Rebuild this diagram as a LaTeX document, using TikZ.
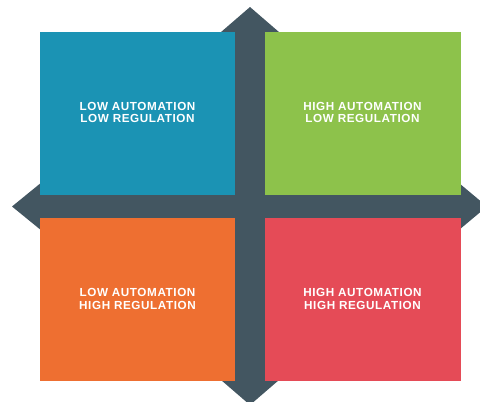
\documentclass[tikz,border=0pt]{standalone}
\usepackage{fontspec}
\newfontfamily\quadfont[LetterSpace=5]{Liberation Sans}
\definecolor{axisgray}{HTML}{435661}
\definecolor{qblue}{HTML}{1B93B4}
\definecolor{qgreen}{HTML}{8DC24B}
\definecolor{qorange}{HTML}{EE6F31}
\definecolor{qred}{HTML}{E54B57}
\tikzset{
  quadtext/.style={text=white, align=center, inner sep=0pt, font=\quadfont\bfseries\fontsize{11.7}{12.3}\selectfont},
  axisfill/.style={fill=axisgray, draw=none}
}
\begin{document}
\begin{tikzpicture}[x=1pt,y=-1pt]
\useasboundingbox (0,0) rectangle (480,402);
% cross arrows
\fill[axisfill] (235,40) rectangle (265,375);
\fill[axisfill] (45,195) rectangle (455,218);
\fill[axisfill] (250,7) -- (294,45) -- (206,45) -- cycle;
\fill[axisfill] (250,405) -- (290.6,370) -- (209.4,370) -- cycle;
\fill[axisfill] (12,206.5) -- (50,175.5) -- (50,237.5) -- cycle;
\fill[axisfill] (487,206.5) -- (450,175.5) -- (450,237.5) -- cycle;
% quadrants
\fill[qblue]   (40,32) rectangle (235,195);
\fill[qgreen]  (265,32) rectangle (461,195);
\fill[qorange] (40,218) rectangle (235,381);
\fill[qred]    (265,218) rectangle (461,381);
\node[quadtext] (tl) at (137.5,112.5) {LOW AUTOMATION\\LOW REGULATION};
\node[quadtext] (tr) at (362.5,112.5) {HIGH AUTOMATION\\LOW REGULATION};
\node[quadtext] (bl) at (137.5,299) {LOW AUTOMATION\\HIGH REGULATION};
\node[quadtext] (br) at (362.5,299) {HIGH AUTOMATION\\HIGH REGULATION};
\end{tikzpicture}
\end{document}
